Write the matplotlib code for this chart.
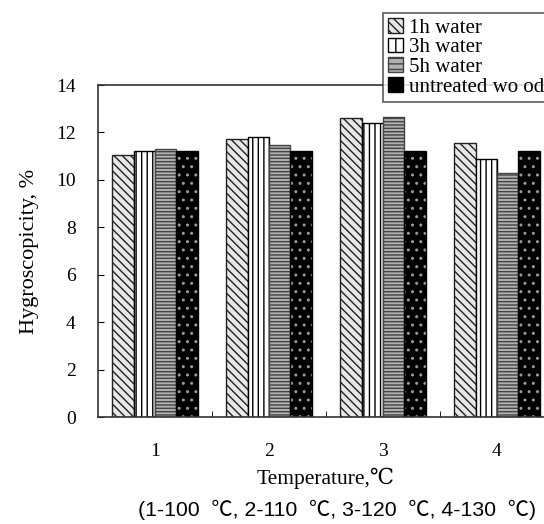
import numpy as np
import matplotlib
matplotlib.use("Agg")
import matplotlib.pyplot as plt
from matplotlib.patches import Patch

plt.rcParams['font.family'] = ['Liberation Serif', 'DejaVu Serif']
plt.rcParams['hatch.linewidth'] = 1.0

# hygroscopicity (%) per temperature level
groups = ['1', '2', '3', '4']
water_1h = [11.05, 11.72, 12.62, 11.54]
water_3h = [11.23, 11.82, 12.38, 10.88]
water_5h = [11.29, 11.47, 12.67, 10.28]
untreated = [11.2, 11.2, 11.2, 11.2]
series_names = ['1h water', '3h water', '5h water', 'untreated wo od']

fig = plt.figure(figsize=(5.44, 5.24), dpi=100)
ax = fig.add_axes([98/544, 1 - 417/524, 456/544, 332/524])

x = np.arange(len(groups))
w = 0.1875
offs = [-1.5, -0.5, 0.5, 1.5]

ax.bar(x + offs[0]*w, water_1h, w, facecolor='#e8e8e8', edgecolor='#222222', hatch='\\\\\\\\', linewidth=1.0)
ax.bar(x + offs[1]*w, water_3h, w, facecolor='white', edgecolor='black', hatch='|||', linewidth=1.0)
ax.bar(x + offs[2]*w, water_5h, w, facecolor='#b0b0b0', edgecolor='#444444', hatch='-----', linewidth=1.0)
# black bars with light dots: hatch drawn in grey, outline drawn on top
ax.bar(x + offs[3]*w, untreated, w, facecolor='black', edgecolor='#9a9a9a', hatch='..', linewidth=0)
ax.bar(x + offs[3]*w, untreated, w, facecolor='none', edgecolor='black', linewidth=1.0)

ax.set_xlim(-0.5, 3.5)
ax.set_ylim(0, 14)
ax.set_yticks(np.arange(0, 15, 2))
ax.set_xticks(x)
ax.set_xticklabels(groups)
ax.set_xticks([0.5, 1.5, 2.5], minor=True)
ax.tick_params(axis='x', which='major', length=0, pad=19, labelsize=14)
ax.tick_params(axis='x', which='minor', direction='in', length=4)
ax.tick_params(axis='y', direction='in', length=4, pad=16, labelsize=14)

for s in ax.spines.values():
    s.set_color('#333333')
    s.set_linewidth(1.2)

ax.set_ylabel('Hygroscopicity, %', fontsize=16, labelpad=12)
ax.set_xlabel('Temperature,℃', fontsize=15.5, labelpad=5)
fig.text(337/544, 1 - 510/524, '(1-100  ℃, 2-110  ℃, 3-120  ℃, 4-130  ℃)',
         ha='center', va='center', fontsize=15.3,
         family=['Liberation Sans', 'Noto Sans CJK SC'])

handles = [
    Patch(facecolor='#e8e8e8', edgecolor='#222222', hatch='\\\\\\\\'),
    Patch(facecolor='white', edgecolor='black', hatch='||'),
    Patch(facecolor='#b0b0b0', edgecolor='#444444', hatch='---'),
    Patch(facecolor='black', edgecolor='black'),
]
leg = fig.legend(handles, series_names, loc='upper left',
                 bbox_to_anchor=(383/544, 1 - 13/524), fontsize=15,
                 frameon=True, fancybox=False, edgecolor='#333333',
                 handlelength=0.7, handleheight=0.7, handletextpad=0.3,
                 labelspacing=0.0, borderpad=0.25, borderaxespad=0)
leg.get_frame().set_linewidth(1.2)

fig.savefig('out.png', dpi=100)
